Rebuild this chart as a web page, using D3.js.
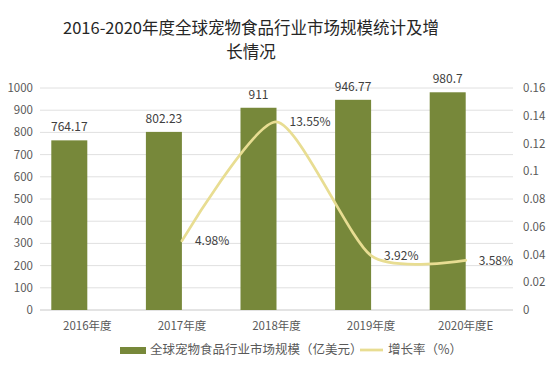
<!DOCTYPE html>
<html>
<head>
<meta charset="utf-8">
<script src="https://cdn.jsdelivr.net/npm/d3@7"></script>
<style>
  body { margin: 0; background: #fff; }
  text { font-family: "Noto Sans CJK SC", "Noto Sans", sans-serif; }
</style>
</head>
<body>
<script>
// chart data
const years = ['2016年度', '2017年度', '2018年度', '2019年度', '2020年度E'];
const marketSize = [764.17, 802.23, 911, 946.77, 980.7];
const growthRate = [null, 0.0498, 0.1355, 0.0392, 0.0358];
const growthLabels = ['', '4.98%', '13.55%', '3.92%', '3.58%'];
const leftTicks = [0, 100, 200, 300, 400, 500, 600, 700, 800, 900, 1000];
const rightTicks = [0, 0.02, 0.04, 0.06, 0.08, 0.1, 0.12, 0.14, 0.16];
const titleLines = ['2016-2020年度全球宠物食品行业市场规模统计及增', '长情况'];
const legendNames = ['全球宠物食品行业市场规模（亿美元）', '增长率（%）'];

const chart = (function() {

    const dim = { width: 552, height: 367, left: 40, right: 513, top: 88, bottom: 310 };
    const barColor = '#77883a', lineColor = '#e8dd92', textColor = '#595959';

    const svg = d3.select('body').append('svg')
        .attr('width', dim.width)
        .attr('height', dim.height)
        .style('background', '#fff');

    //**** SCALES */
    const x = d3.scaleBand().domain(years).range([dim.left, dim.right]),
        yL = d3.scaleLinear().domain([0, 1000]).range([dim.bottom, dim.top]),
        yR = d3.scaleLinear().domain([0, 0.16]).range([dim.bottom, dim.top]),
        barW = 36;

    //**** TITLE (wrapped over two lines) */
    svg.append('g').attr('class', 'title_g')
        .selectAll('text').data(titleLines).join('text')
        .attr('x', 251)
        .attr('y', (d, i) => 34 + i * 24)
        .attr('text-anchor', 'middle')
        .attr('font-size', 16.5)
        .attr('fill', '#262626')
        .text(d => d);

    //******* GRID */
    svg.append('g').attr('class', 'grid')
        .selectAll('line').data(leftTicks).join('line')
        .attr('x1', dim.left).attr('x2', dim.right)
        .attr('y1', d => yL(d)).attr('y2', d => yL(d))
        .attr('stroke', d => d === 0 ? '#c8c8c8' : '#e0e0e0')
        .attr('stroke-width', 1);

    //******** AXIS LABELS */
    svg.append('g').attr('class', 'left_axis')
        .selectAll('text').data(leftTicks).join('text')
        .attr('x', 33).attr('y', d => yL(d))
        .attr('dy', '0.35em')
        .attr('text-anchor', 'end')
        .attr('font-size', 11.5)
        .attr('fill', textColor)
        .text(d => d);

    svg.append('g').attr('class', 'right_axis')
        .selectAll('text').data(rightTicks).join('text')
        .attr('x', 523).attr('y', d => yR(d))
        .attr('dy', '0.35em')
        .attr('font-size', 11.5)
        .attr('fill', textColor)
        .text(d => d3.format('~g')(d));

    svg.append('g').attr('class', 'x_axis')
        .selectAll('text').data(years).join('text')
        .attr('x', d => x(d) + x.bandwidth() / 2)
        .attr('y', 326)
        .attr('dy', '0.35em')
        .attr('text-anchor', 'middle')
        .attr('font-size', 11.5)
        .attr('fill', textColor)
        .text(d => d);

    //******** BARS (sit left of band centre) */
    const bars_g = svg.append('g').attr('class', 'bars_g');
    bars_g.selectAll('rect').data(marketSize).join('rect')
        .attr('x', (d, i) => x(years[i]) + x.bandwidth() / 2 - barW)
        .attr('y', d => yL(d))
        .attr('width', barW)
        .attr('height', d => yL(0) - yL(d))
        .attr('fill', barColor);

    bars_g.selectAll('text').data(marketSize).join('text')
        .attr('x', (d, i) => x(years[i]) + x.bandwidth() / 2 - barW / 2)
        .attr('y', d => yL(d) - 9)
        .attr('text-anchor', 'middle')
        .attr('font-size', 12)
        .attr('fill', '#404040')
        .text(d => String(d));

    //******** GROWTH LINE */
    const pts = growthRate.map((d, i) => ({ x: x(years[i]) + x.bandwidth() / 2, y: d, label: growthLabels[i] }))
        .filter(d => d.y !== null);

    const line = d3.line().x(d => d.x).y(d => yR(d.y)).curve(d3.curveCardinal.tension(0.3));

    const line_g = svg.append('g').attr('class', 'line_g');
    line_g.append('path')
        .datum(pts)
        .attr('d', line)
        .attr('fill', 'none')
        .attr('stroke', lineColor)
        .attr('stroke-width', 2.75)
        .attr('stroke-linecap', 'round');

    line_g.selectAll('text').data(pts).join('text')
        .attr('x', d => d.x + 13)
        .attr('y', d => yR(d.y))
        .attr('dy', '0.35em')
        .attr('font-size', 12)
        .attr('fill', '#404040')
        .text(d => d.label);

    //******** LEGEND */
    const legend_g = svg.append('g').attr('class', 'legend_g');
    legend_g.append('rect')
        .attr('x', 120).attr('y', 347)
        .attr('width', 26).attr('height', 7)
        .attr('fill', barColor);
    legend_g.append('text')
        .attr('x', 150).attr('y', 350)
        .attr('dy', '0.35em')
        .attr('font-size', 12.5)
        .attr('fill', textColor)
        .text(legendNames[0]);
    legend_g.append('line')
        .attr('x1', 360).attr('x2', 383)
        .attr('y1', 350).attr('y2', 350)
        .attr('stroke', lineColor)
        .attr('stroke-width', 2.75);
    legend_g.append('text')
        .attr('x', 388).attr('y', 350)
        .attr('dy', '0.35em')
        .attr('font-size', 12.5)
        .attr('fill', textColor)
        .text(legendNames[1]);

    return { svg, x, yL, yR };
})();
</script>
</body>
</html>
